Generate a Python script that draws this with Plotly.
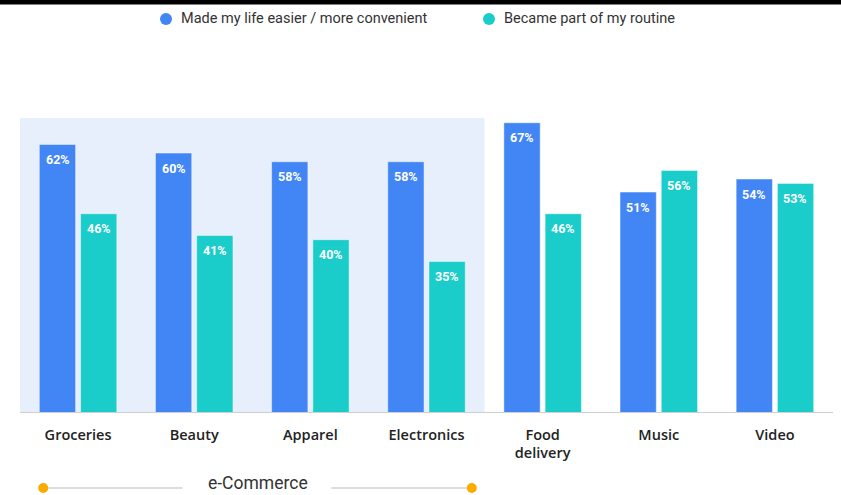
import plotly.graph_objects as go

categories = ["Groceries", "Beauty", "Apparel", "Electronics", "Food<br>delivery", "Music", "Video"]
easier = [62, 60, 58, 58, 67, 51, 54]
routine = [46, 41, 40, 35, 46, 56, 53]
series_names = ["Made my life easier / more convenient", "Became part of my routine"]

BLUE = "#4285F4"
TEAL = "#1BCDCA"
ORANGE = "#F9AB00"
TEXT = "#333333"
FONT = "Roboto, 'Open Sans', sans-serif"
W, H = 841, 495
ML, MR, MT, MB = 20, 8, 118, 82
PW, PH = W - ML - MR, H - MT - MB


def px_x(px):
    return (px - ML) / PW


def px_y(py):
    return (H - MB - py) / PH


xs = list(range(len(categories)))

fig = go.Figure()
for vals, color, name in [(easier, BLUE, series_names[0]), (routine, TEAL, series_names[1])]:
    fig.add_trace(go.Bar(
        x=xs, y=vals, name=name, showlegend=False,
        marker=dict(color=color, line=dict(color="rgba(255,255,255,0.45)", width=1)),
        hoverinfo="skip",
    ))

# value labels near the top of each bar
for i in xs:
    for vals, shift in [(easier, -20.5), (routine, 20.5)]:
        fig.add_annotation(
            x=i, y=vals[i], xref="x", yref="y", text=f"{vals[i]}%",
            showarrow=False, xshift=shift, yshift=-15,
            font=dict(color="white", size=12.5, family=FONT, weight="bold"),
        )

shapes = [
    # highlighted e-Commerce block
    dict(type="rect", xref="x", yref="paper", x0=-0.5, x1=3.5, y0=0, y1=1,
         fillcolor="#E8EFFC", line=dict(width=0), layer="below"),
    # baseline
    dict(type="line", xref="paper", yref="y", x0=0, x1=1, y0=0, y1=0,
         line=dict(color="#CFCFCF", width=2)),
    # black rule along the top edge
    dict(type="rect", xref="paper", yref="paper", x0=px_x(-2), x1=px_x(W + 2),
         y0=px_y(4.5), y1=px_y(-2), fillcolor="black", line=dict(width=0)),
]

# legend: coloured dots followed by series names
legend_items = [(166, BLUE, series_names[0]), (489, TEAL, series_names[1])]
for cx, color, name in legend_items:
    shapes.append(dict(type="circle", xref="paper", yref="paper",
                       xsizemode="pixel", ysizemode="pixel",
                       xanchor=px_x(cx), yanchor=px_y(19),
                       x0=-6, x1=6, y0=-6, y1=6,
                       fillcolor=color, line=dict(width=0)))
    fig.add_annotation(x=px_x(cx + 13), y=px_y(19), xref="paper", yref="paper",
                       text=name, showarrow=False, xanchor="left", yanchor="middle",
                       font=dict(size=14.5, color=TEXT, family=FONT))

# e-Commerce bracket under the first four categories
br_y = px_y(488)
left, right, mid = -0.30, 3.39, 1.545
for a, b in [(left, 0.9), (2.18, right)]:
    shapes.append(dict(type="line", xref="x", yref="paper", x0=a, x1=b, y0=br_y, y1=br_y,
                       line=dict(color="#DDDDDD", width=2)))
for p in (left, right):
    shapes.append(dict(type="circle", xref="x", yref="paper",
                       xsizemode="pixel", ysizemode="pixel",
                       xanchor=p, yanchor=br_y, x0=-5, x1=5, y0=-5, y1=5,
                       fillcolor=ORANGE, line=dict(width=0)))

fig.add_annotation(x=mid, y=px_y(483), xref="x", yref="paper", text="e-Commerce",
                   showarrow=False, yanchor="middle", borderpad=0,
                   font=dict(size=17.5, color=TEXT, family=FONT))

fig.update_layout(
    width=W, height=H,
    margin=dict(l=ML, r=MR, t=MT, b=MB),
    paper_bgcolor="white", plot_bgcolor="rgba(0,0,0,0)",
    barmode="group", bargap=0.29, bargroupgap=0.12,
    shapes=shapes,
    showlegend=False,
    font=dict(family=FONT, color=TEXT),
    xaxis=dict(tickmode="array", tickvals=xs, ticktext=categories,
               range=[-0.5, 6.5], showgrid=False, zeroline=False, showline=False,
               ticks="", ticklabelstandoff=11,
               tickfont=dict(size=14.5, color="#222222", family="'Open Sans', sans-serif",
                             weight=600)),
    yaxis=dict(range=[0, 68.1], visible=False, showgrid=False, zeroline=False),
)

fig.write_html("out.html")
